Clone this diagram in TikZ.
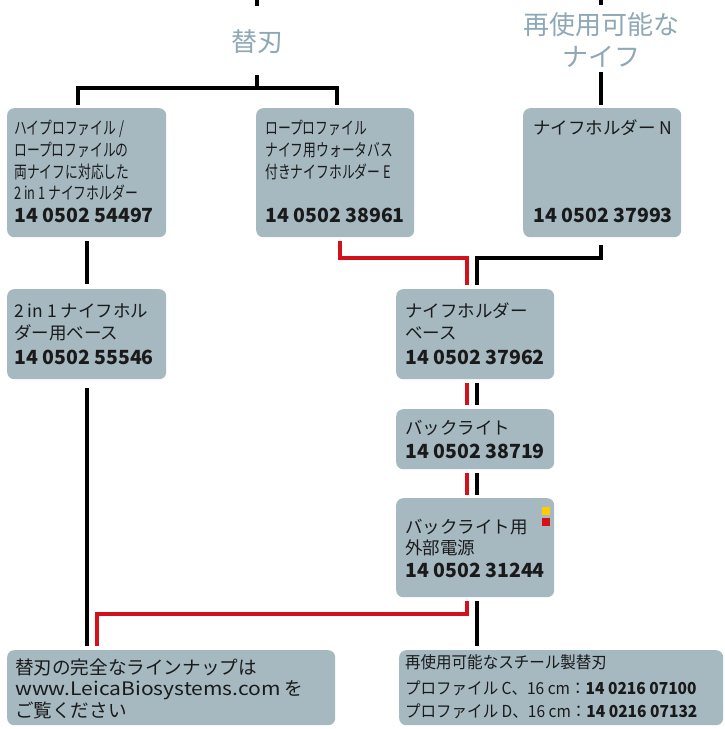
\documentclass[tikz,border=0pt]{standalone}
\usepackage{fontspec}
\setmainfont{Noto Sans CJK JP}
\newfontfamily\cjkc{Noto Sans CJK JP}[FakeStretch=0.74]
\newfontfamily\cjki{Noto Sans CJK JP}[FakeStretch=0.94]
\newfontfamily\latw{Noto Sans CJK JP}[FakeStretch=1.13]
\definecolor{boxc}{HTML}{A6B9C1}
\definecolor{headc}{HTML}{8EA8B5}
\definecolor{redl}{HTML}{D2111B}
\definecolor{txt}{HTML}{1A1A1A}
\definecolor{ylw}{HTML}{FFCC00}
\tikzset{
 panel/.style={fill=boxc, rounded corners=7pt, inner sep=0pt, anchor=north west},
 lbl/.style={anchor=base west, inner sep=0pt, text=txt, font=\cjkc\fontsize{17.3}{17.3}\selectfont},
 lblw/.style={anchor=base west, inner sep=0pt, text=txt, font=\fontsize{17.5}{17.5}\selectfont},
 num/.style={anchor=base west, inner sep=0pt, text=txt, font=\fontsize{19.5}{19.5}\selectfont\bfseries},
 bigl/.style={anchor=base west, inner sep=0pt, text=txt, font=\fontsize{18.6}{18.6}\selectfont},
 midl/.style={anchor=base west, inner sep=0pt, text=txt, font=\cjki\fontsize{16.5}{16.5}\selectfont},
 head/.style={inner sep=0pt, text=headc, font=\fontsize{26}{26}\selectfont},
 bl/.style={line width=3.5pt, black},
 rd/.style={line width=3.5pt, redl},
}
\begin{document}
\begin{tikzpicture}[x=1pt,y=-1pt]
\useasboundingbox[fill=white] (0,0) rectangle (725,729);

% headings
\node[head] (h1) at (257,42) {替刃};
\node[head] (h2a) at (601,25) {再使用可能な};
\node[head] (h2b) at (601,57) {ナイフ};

% panels
\node[panel, minimum width=159pt, minimum height=129pt] (A) at (7,108) {};
\node[panel, minimum width=158pt, minimum height=129pt] (B) at (256,108) {};
\node[panel, minimum width=158pt, minimum height=129pt] (C) at (523,108) {};
\node[panel, minimum width=159pt, minimum height=90pt] (D) at (7,289) {};
\node[panel, minimum width=158pt, minimum height=90pt] (E) at (396,289) {};
\node[panel, minimum width=158pt, minimum height=60pt] (F) at (396,409) {};
\node[panel, minimum width=158pt, minimum height=99pt] (G) at (396,498) {};
\node[panel, minimum width=328pt, minimum height=75pt] (H) at (7,650) {};
\node[panel, minimum width=324pt, minimum height=75pt] (I) at (399,650) {};

% texts A
\node[lbl] (a1) at (14,134.5) {ハイプロファイル /};
\node[lbl] (a2) at (14,156.5) {ロープロファイルの};
\node[lbl] (a3) at (14,178.5) {両ナイフに対応した};
\node[lbl] (a4) at (14,199.5) {2 in 1 ナイフホルダー};
\node[num] (a5) at (14,222) {14 0502 54497};
% texts B
\node[lbl] (b1) at (265,134.5) {ロープロファイル};
\node[lbl] (b2) at (265,156.5) {ナイフ用ウォータバス};
\node[lbl] (b3) at (265,178.5) {付きナイフホルダー E};
\node[num] (b5) at (265,222) {14 0502 38961};
% texts C
\node[lblw] (c1) at (533,134.6) {ナイフホルダー N};
\node[num] (c5) at (533,222) {14 0502 37993};
% texts D
\node[lblw] (d1) at (14,317.6) {2 in 1 ナイフホル};
\node[lblw] (d2) at (14,339.6) {ダー用ベース};
\node[num] (d3) at (14,364) {14 0502 55546};
% texts E
\node[lblw] (e1) at (405,317.6) {ナイフホルダー};
\node[lblw] (e2) at (405,339.6) {ベース};
\node[num] (e3) at (405,364) {14 0502 37962};
% texts F
\node[lblw] (f1) at (405,434.6) {バックライト};
\node[num] (f2) at (405,458) {14 0502 38719};
% texts G
\node[lblw] (g1) at (405,533.6) {バックライト用};
\node[lblw] (g2) at (405,554.6) {外部電源};
\node[num] (g3) at (405,577) {14 0502 31244};
\fill[ylw] (542,507) rectangle (550,515);
\fill[redl] (542,518) rectangle (550,526);
% texts H
\node[bigl] (hh1) at (15,674) {替刃の完全なラインナップは};
\node[bigl] (hh2) at (15,695) {{\latw www.LeicaBiosystems.com} を};
\node[bigl] (hh3) at (15,717) {ご覧ください};
% texts I
\node[midl] (i1) at (405,668) {再使用可能なスチール製替刃};
\node[midl] (i2) at (405,694) {プロファイル C、16 cm：\textbf{14 0216 07100}};
\node[midl] (i3) at (405,717) {プロファイル D、16 cm：\textbf{14 0216 07132}};

% connectors
\coordinate (tl) at (257,0);
\coordinate (tr) at (601,0);
\draw[bl] (tl) -- (tl |- 0,6);
\draw[bl] (tr) -- (tr |- 0,5);
\draw[bl] (257,75) -- (257,88);
\draw[bl] (78,105) -- (78,88) -- (337,88) -- (337,105);
\draw[bl] (601,72) -- (601,105);
\draw[bl] (87,241) -- (87,284);
\draw[rd] (340,241) -- (340,258) -- (467,258) -- (467,285);
\draw[bl] (601,245) -- (601,258) -- (477,258) -- (477,285);
\draw[rd] (467,383) -- (467,405);
\draw[bl] (477,383) -- (477,405);
\draw[rd] (467,473) -- (467,495);
\draw[bl] (477,473) -- (477,495);
\draw[bl] (477,601) -- (477,646);
\draw[rd] (467,601) -- (467,614) -- (97,614) -- (97,646);
\draw[bl] (87,388) -- (87,646);
\end{tikzpicture}
\end{document}
